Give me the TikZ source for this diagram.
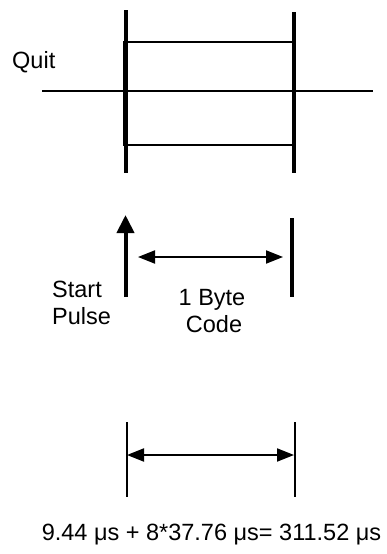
\documentclass[tikz,border=0pt]{standalone}
\usepackage{fontspec}
\setmainfont{Liberation Sans}
\usetikzlibrary{arrows.meta}
\begin{document}
\begin{tikzpicture}[x=1pt,y=-1pt,
  thickbar/.style={line width=4pt},
  thinline/.style={line width=2pt},
  lbl/.style={font=\fontsize{23.5}{27}\selectfont, inner sep=0pt},
  dimarrow/.style={line width=2pt, {Triangle[length=17pt,width=13pt]}-{Triangle[length=17pt,width=13pt]}},
  uparrow/.style={line width=4pt, -{Triangle[length=18pt,width=17pt]}}]
\useasboundingbox (0,0) rectangle (387,554);
% top part
\coordinate (L1t) at (125.5,10);
\coordinate (L1b) at (125.5,173);
\coordinate (R1t) at (293.5,12);
\coordinate (R1b) at (293.5,173);
\coordinate (boxA) at (124,42);
\coordinate (boxB) at (293,145);
\coordinate (hl) at (42,90.5);
\coordinate (hr) at (373,90.5);
\draw[thinline] (boxA) rectangle (boxB);
\draw[thinline] (hl) -- (hr);
\draw[thickbar] (L1t) -- (L1b);
\draw[thickbar] (R1t) -- (R1b);
\node[lbl, anchor=base west] (quit) at (12,68) {Quit};
% middle part
\coordinate (Ub) at (125.5,297);
\coordinate (Ut) at (125.5,215);
\draw[uparrow] (Ub) -- (Ut);
\coordinate (R2t) at (292,218);
\coordinate (R2b) at (292,297);
\draw[thickbar] (R2t) -- (R2b);
\coordinate (Ma) at (138,257);
\coordinate (Mb) at (283,257);
\draw[dimarrow] (Ma) -- (Mb);
\node[lbl, anchor=base west] (start) at (52,297) {Start};
\node[lbl, anchor=base west] (pulse) at (52,324) {Pulse};
\node[lbl, anchor=base] (byte) at (212,305) {1 Byte};
\node[lbl, anchor=base] (code) at (214,332) {Code};
% bottom part
\coordinate (L3t) at (127,422);
\coordinate (L3b) at (127,497);
\coordinate (R3t) at (295,422);
\coordinate (R3b) at (295,497);
\draw[thinline] (L3t) -- (L3b);
\draw[thinline] (R3t) -- (R3b);
\coordinate (Ba) at (127,455);
\coordinate (Bb) at (294,455);
\draw[dimarrow] (Ba) -- (Bb);
\node[lbl, anchor=base] (formula) at (211.5,540) {9.44 μs + 8*37.76 μs= 311.52 μs};
\end{tikzpicture}
\end{document}
